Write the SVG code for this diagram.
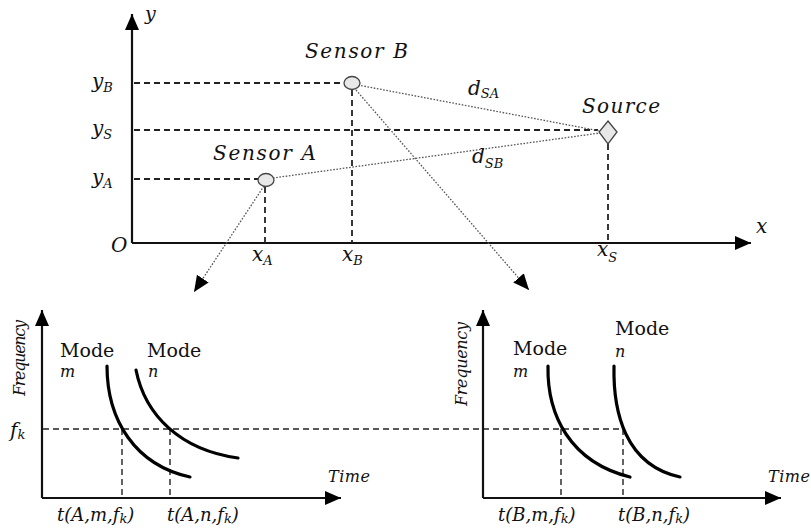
<svg xmlns="http://www.w3.org/2000/svg" width="811" height="532" viewBox="0 0 811 532">
<style>
text{font-family:"DejaVu Serif","Liberation Serif",serif;fill:#111}
.lbl{font-size:20px;font-style:italic}
.sub{font-size:13px;font-style:italic}
.axis{stroke:#111;stroke-width:2.2;fill:none}
.dash{stroke:#222;stroke-width:1.8;stroke-dasharray:6,4;fill:none}
.dash2{stroke:#222;stroke-width:1.4;stroke-dasharray:6,4;fill:none}
.dot{stroke:#555;stroke-width:1.3;stroke-dasharray:1.6,1.6;fill:none}
.curve{stroke:#000;stroke-width:3.2;fill:none;stroke-linecap:round}
.mode{font-size:19px}
.small{font-size:16px;font-style:italic}
.tl{font-size:18px;font-style:italic}
.tsub{font-size:13px;font-style:italic}
</style>
<defs>
<marker id="ah" markerUnits="userSpaceOnUse" markerWidth="18" markerHeight="16" refX="16" refY="7" orient="auto">
<path d="M0,0 L16,7 L0,14 z" fill="#000"/>
</marker>
</defs>

<g id="top-plot">
<line class="axis" x1="132" y1="243" x2="132" y2="14" marker-end="url(#ah)"/>
<line class="axis" x1="132" y1="243" x2="751" y2="243" marker-end="url(#ah)"/>
<text class="lbl" x="145" y="20" style="font-size:19px">y</text>
<text class="lbl" x="756" y="233">x</text>
<text class="lbl" x="111" y="252">O</text>
<text x="92" y="88"><tspan class="lbl">y</tspan><tspan class="sub" dy="4">B</tspan></text>
<text x="92" y="135"><tspan class="lbl">y</tspan><tspan class="sub" dy="4">S</tspan></text>
<text x="92" y="184"><tspan class="lbl">y</tspan><tspan class="sub" dy="4">A</tspan></text>
<text x="252" y="261"><tspan class="lbl">x</tspan><tspan class="sub" dy="4">A</tspan></text>
<text x="342" y="261"><tspan class="lbl">x</tspan><tspan class="sub" dy="4">B</tspan></text>
<text x="597" y="256"><tspan class="lbl">x</tspan><tspan class="sub" dy="6">S</tspan></text>
<line class="dash" x1="134" y1="83" x2="344" y2="83"/>
<line class="dash" x1="134" y1="130" x2="598" y2="130"/>
<line class="dash" x1="134" y1="179" x2="258" y2="179"/>
<line class="dash" x1="265" y1="187" x2="265" y2="243"/>
<line class="dash" x1="352" y1="90" x2="352" y2="243"/>
<line class="dash" x1="608" y1="144" x2="608" y2="243"/>
</g>

<g id="connectors">
<line class="dot" x1="358" y1="85" x2="600" y2="131"/>
<line class="dot" x1="273" y1="178" x2="600" y2="133"/>
<line class="dot" x1="356" y1="90" x2="529" y2="290" marker-end="url(#ah)"/>
<line class="dot" x1="264" y1="186" x2="194" y2="292" marker-end="url(#ah)"/>
<text x="468" y="95"><tspan class="lbl">d</tspan><tspan class="sub" dy="3">SA</tspan></text>
<text x="472" y="163"><tspan class="lbl">d</tspan><tspan class="sub" dy="5">SB</tspan></text>
</g>

<g id="sensorA">
<ellipse cx="266" cy="180" rx="8" ry="6.5" fill="#e8e8e8" stroke="#444" stroke-width="1.3"/>
<text class="lbl" x="213" y="160" textLength="103">Sensor A</text>
</g>
<g id="sensorB">
<ellipse cx="352" cy="83" rx="8" ry="6.5" fill="#e8e8e8" stroke="#444" stroke-width="1.3"/>
<text class="lbl" x="305" y="58" textLength="103">Sensor B</text>
</g>
<g id="source">
<path d="M608,121 L617,132 L608,144 L599,132 z" fill="#e8e8e8" stroke="#444" stroke-width="1.3"/>
<text class="lbl" x="582" y="113" textLength="78">Source</text>
</g>

<g id="plotA">
<line class="axis" x1="42" y1="498" x2="42" y2="310" marker-end="url(#ah)"/>
<line class="axis" x1="42" y1="498" x2="341" y2="498" marker-end="url(#ah)"/>
<text class="small" transform="translate(25,396) rotate(-90)" textLength="76">Frequency</text>
<text x="10" y="437"><tspan class="lbl">f</tspan><tspan class="sub" dy="2">k</tspan></text>
<text class="small" x="328" y="482" textLength="42">Time</text>
<line class="dash2" x1="43" y1="429" x2="624" y2="429"/>
<line class="dash2" x1="122" y1="429" x2="122" y2="498"/>
<line class="dash2" x1="170" y1="429" x2="170" y2="498"/>
<path class="curve" d="M107,366 C107,420 135,465 190,477"/>
<path class="curve" d="M136,370 C145,415 180,450 238,458"/>
<text class="mode" x="60" y="357">Mode</text>
<text class="small" x="60" y="377">m</text>
<text class="mode" x="147" y="357">Mode</text>
<text class="small" x="148" y="377">n</text>
<text x="57" y="521"><tspan class="tl">t(A,m,f</tspan><tspan class="tsub" dy="2">k</tspan><tspan class="tl" dy="-2">)</tspan></text>
<text x="167" y="521"><tspan class="tl">t(A,n,f</tspan><tspan class="tsub" dy="2">k</tspan><tspan class="tl" dy="-2">)</tspan></text>
</g>

<g id="plotB">
<line class="axis" x1="483" y1="498" x2="483" y2="310" marker-end="url(#ah)"/>
<line class="axis" x1="483" y1="498" x2="781" y2="498" marker-end="url(#ah)"/>
<text class="small" transform="translate(467,406) rotate(-90)" textLength="84">Frequency</text>
<text class="small" x="768" y="482" textLength="42">Time</text>
<line class="dash2" x1="561" y1="429" x2="561" y2="498"/>
<line class="dash2" x1="623" y1="429" x2="623" y2="498"/>
<path class="curve" d="M548,366 C547,415 570,462 630,477"/>
<path class="curve" d="M614,366 C613,412 625,465 680,477"/>
<text class="mode" x="513" y="355">Mode</text>
<text class="small" x="513" y="377">m</text>
<text class="mode" x="615" y="335">Mode</text>
<text class="small" x="615" y="357">n</text>
<text x="498" y="521"><tspan class="tl">t(B,m,f</tspan><tspan class="tsub" dy="2">k</tspan><tspan class="tl" dy="-2">)</tspan></text>
<text x="618" y="521"><tspan class="tl">t(B,n,f</tspan><tspan class="tsub" dy="2">k</tspan><tspan class="tl" dy="-2">)</tspan></text>
</g>
</svg>
